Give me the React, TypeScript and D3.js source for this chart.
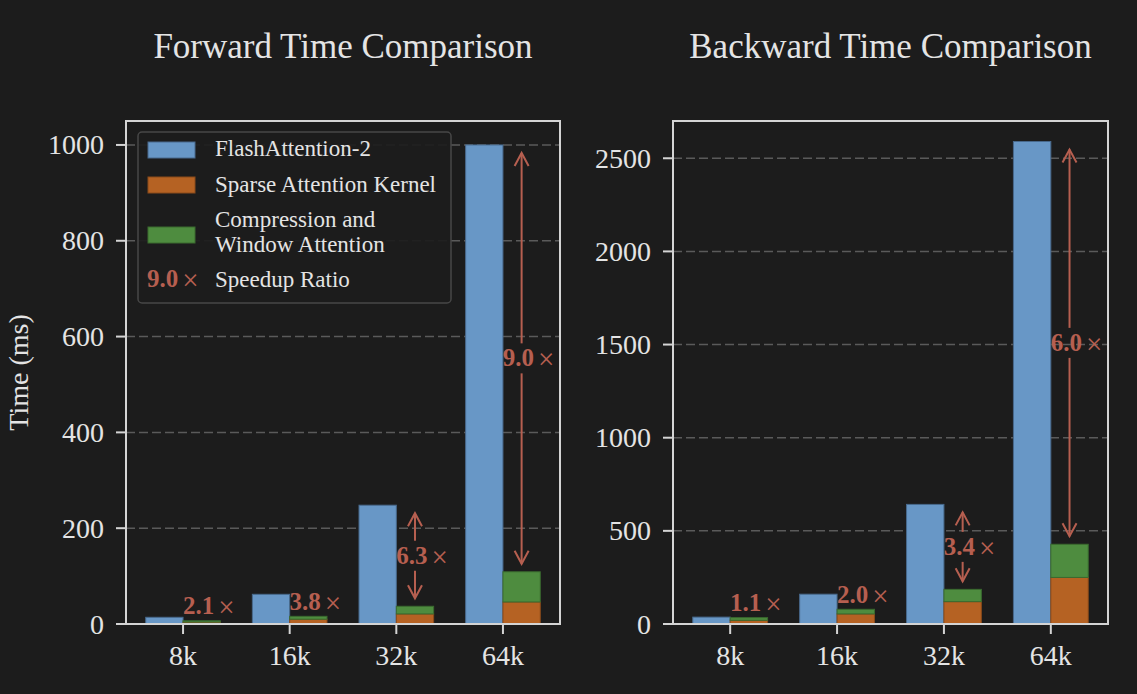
import React, { useEffect, useRef } from 'react';
import * as d3 from 'd3';

// sequence lengths
const categories = ['8k', '16k', '32k', '64k'];

// forward pass (ms)
const fwdFlash = [14, 62, 248, 1000];
const fwdSparse = [4, 10, 21, 46];
const fwdComp = [2.7, 6, 16, 63];
const fwdRatio = ['2.1', '3.8', '6.3', '9.0'];
const fwdTicks = [0, 200, 400, 600, 800, 1000];

// backward pass (ms)
const bwdFlash = [37, 160, 642, 2590];
const bwdSparse = [20, 54, 120, 250];
const bwdComp = [14, 25, 66, 178];
const bwdRatio = ['1.1', '2.0', '3.4', '6.0'];
const bwdTicks = [0, 500, 1000, 1500, 2000, 2500];

const legendItems = ['FlashAttention-2', 'Sparse Attention Kernel', ['Compression and', 'Window Attention']];

const BG = '#1c1c1c';
const FG = '#e4e4e4';
const BLUE = '#6897c6';
const ORANGE = '#b56223';
const GREEN = '#4e8c3f';
const RED = '#b65f50';
const FONT = '"Liberation Serif", "DejaVu Serif", serif';

// bold ratio + a larger thin "×" sitting on the digits' middle
const ratioText = (sel, r) => {
    sel.append('tspan').attr('font-weight', 'bold').style('font-size', '25px').text(r);
    sel.append('tspan').attr('dx', 4).attr('dy', 3).style('font-size', '29px').text('×');
};

const App = () => {
    const svgRef = useRef();

    const drawPanel = (svg, p) => {
        const g = svg.append('g');
        const top = 121, bottom = 624;
        const w = 0.35;

        const x = d3.scaleLinear().domain([-0.535, 3.535]).range([p.left, p.right]);
        const y = d3.scaleLinear().domain([0, p.ymax]).range([bottom, top]);

        // grid lines
        g.selectAll('.grid')
            .data(p.ticks.filter(t => t > 0))
            .enter().append('line')
            .attr('x1', p.left).attr('x2', p.right)
            .attr('y1', d => y(d)).attr('y2', d => y(d))
            .attr('stroke', '#5a5a5a')
            .attr('stroke-width', 1.5)
            .attr('stroke-dasharray', '9,4');

        // FlashAttention bars
        g.selectAll('.flash')
            .data(p.flash)
            .enter().append('rect')
            .attr('x', (d, i) => x(i - w))
            .attr('y', d => y(d))
            .attr('width', x(w) - x(0))
            .attr('height', d => bottom - y(d))
            .attr('fill', BLUE)
            .attr('stroke', '#48698c')
            .attr('stroke-width', 1);

        // sparse kernel (bottom of stack)
        g.selectAll('.sparse')
            .data(p.sparse)
            .enter().append('rect')
            .attr('x', (d, i) => x(i))
            .attr('y', d => y(d))
            .attr('width', x(w) - x(0))
            .attr('height', d => bottom - y(d))
            .attr('fill', ORANGE)
            .attr('stroke', '#8a4a1a')
            .attr('stroke-width', 1);

        // compression + window (top of stack)
        g.selectAll('.comp')
            .data(p.comp)
            .enter().append('rect')
            .attr('x', (d, i) => x(i))
            .attr('y', (d, i) => y(d + p.sparse[i]))
            .attr('width', x(w) - x(0))
            .attr('height', (d, i) => y(p.sparse[i]) - y(d + p.sparse[i]))
            .attr('fill', GREEN)
            .attr('stroke', '#3a6a2f')
            .attr('stroke-width', 1);

        // speedup annotations
        p.ratio.forEach((r, i) => {
            const cx = x(i + w / 2);
            const yTop = y(p.flash[i]);
            const yLow = y(p.sparse[i] + p.comp[i]);
            const label = g.append('text')
                .attr('text-anchor', 'middle')
                .attr('x', cx + 7)
                .attr('fill', RED)
                .style('font-family', FONT);
            ratioText(label, r);

            if (yLow - yTop < 60) {
                label.attr('y', yLow - 6.5);
                return;
            }
            const mid = (yTop + yLow) / 2;
            label.attr('y', mid + 8);
            const segs = [
                { from: mid - 15, to: yTop + 8, dir: -1 },
                { from: mid + 15, to: yLow - 8, dir: 1 }
            ];
            segs.forEach(s => {
                g.append('line')
                    .attr('x1', cx).attr('x2', cx)
                    .attr('y1', s.from).attr('y2', s.to)
                    .attr('stroke', RED).attr('stroke-width', 2);
                g.append('path')
                    .attr('d', `M${cx - 7},${s.to - s.dir * 13}L${cx},${s.to}L${cx + 7},${s.to - s.dir * 13}`)
                    .attr('fill', 'none')
                    .attr('stroke', RED)
                    .attr('stroke-width', 2);
            });
        });

        // spines
        g.append('rect')
            .attr('x', p.left).attr('y', top)
            .attr('width', p.right - p.left).attr('height', bottom - top)
            .attr('fill', 'none')
            .attr('stroke', '#d4d4d4')
            .attr('stroke-width', 2);

        // y axis ticks + labels
        p.ticks.forEach(t => {
            g.append('line')
                .attr('x1', p.left - 10).attr('x2', p.left)
                .attr('y1', y(t)).attr('y2', y(t))
                .attr('stroke', '#d4d4d4').attr('stroke-width', 2);
            g.append('text')
                .attr('x', p.left - 22)
                .attr('y', y(t) + 9.5)
                .attr('text-anchor', 'end')
                .attr('fill', FG)
                .style('font-family', FONT)
                .style('font-size', '28px')
                .text(t);
        });

        // x axis ticks + labels
        categories.forEach((c, i) => {
            g.append('line')
                .attr('x1', x(i)).attr('x2', x(i))
                .attr('y1', bottom).attr('y2', bottom + 10)
                .attr('stroke', '#d4d4d4').attr('stroke-width', 2);
            g.append('text')
                .attr('x', x(i))
                .attr('y', 665)
                .attr('text-anchor', 'middle')
                .attr('fill', FG)
                .style('font-family', FONT)
                .style('font-size', '28px')
                .text(c);
        });

        // title
        g.append('text')
            .attr('x', (p.left + p.right) / 2)
            .attr('y', 58)
            .attr('text-anchor', 'middle')
            .attr('fill', FG)
            .style('font-family', FONT)
            .style('font-size', '35px')
            .text(p.title);

        if (p.yLabel) {
            g.append('text')
                .attr('transform', `translate(28,${(top + bottom) / 2}) rotate(-90)`)
                .attr('text-anchor', 'middle')
                .attr('fill', FG)
                .style('font-family', FONT)
                .style('font-size', '28px')
                .text(p.yLabel);
        }

        if (p.legend) {
            const lg = g.append('g');
            lg.append('rect')
                .attr('x', 138).attr('y', 132)
                .attr('width', 313).attr('height', 171)
                .attr('rx', 4)
                .attr('fill', BG)
                .attr('fill-opacity', 0.92)
                .attr('stroke', '#474747')
                .attr('stroke-width', 1.5);
            const handles = [
                { c: BLUE, e: '#48698c', y: 142 },
                { c: ORANGE, e: '#8a4a1a', y: 177 },
                { c: GREEN, e: '#3a6a2f', y: 227 }
            ];
            handles.forEach(h => {
                lg.append('rect')
                    .attr('x', 148).attr('y', h.y)
                    .attr('width', 47).attr('height', 16)
                    .attr('fill', h.c).attr('stroke', h.e).attr('stroke-width', 1);
            });
            const baselines = [[156], [191.5], [227, 251.5]];
            legendItems.forEach((item, k) => {
                const lines = Array.isArray(item) ? item : [item];
                lines.forEach((ln, j) => {
                    lg.append('text')
                        .attr('x', 215).attr('y', baselines[k][j])
                        .attr('fill', FG)
                        .style('font-family', FONT)
                        .style('font-size', '23px')
                        .text(ln);
                });
            });
            const sample = lg.append('text')
                .attr('x', 147).attr('y', 286.5)
                .attr('fill', RED)
                .style('font-family', FONT);
            ratioText(sample, fwdRatio[3]);
            lg.append('text')
                .attr('x', 215).attr('y', 286.5)
                .attr('fill', FG)
                .style('font-family', FONT)
                .style('font-size', '23px')
                .text('Speedup Ratio');
        }
    };

    useEffect(() => {
        d3.select(svgRef.current).selectAll('*').remove();
        const svg = d3.select(svgRef.current);
        svg.append('rect').attr('width', 1137).attr('height', 694).attr('fill', BG);

        drawPanel(svg, {
            left: 126, right: 560, ymax: 1050, ticks: fwdTicks,
            flash: fwdFlash, sparse: fwdSparse, comp: fwdComp, ratio: fwdRatio,
            title: 'Forward Time Comparison', yLabel: 'Time (ms)', legend: true
        });
        drawPanel(svg, {
            left: 673, right: 1108, ymax: 2700, ticks: bwdTicks,
            flash: bwdFlash, sparse: bwdSparse, comp: bwdComp, ratio: bwdRatio,
            title: 'Backward Time Comparison', yLabel: null, legend: false
        });
    }, []);

    return (
        <svg ref={svgRef} width={1137} height={694}
            style={{ position: 'absolute', left: 0, top: 0, display: 'block' }}></svg>
    );
};

export default App;
